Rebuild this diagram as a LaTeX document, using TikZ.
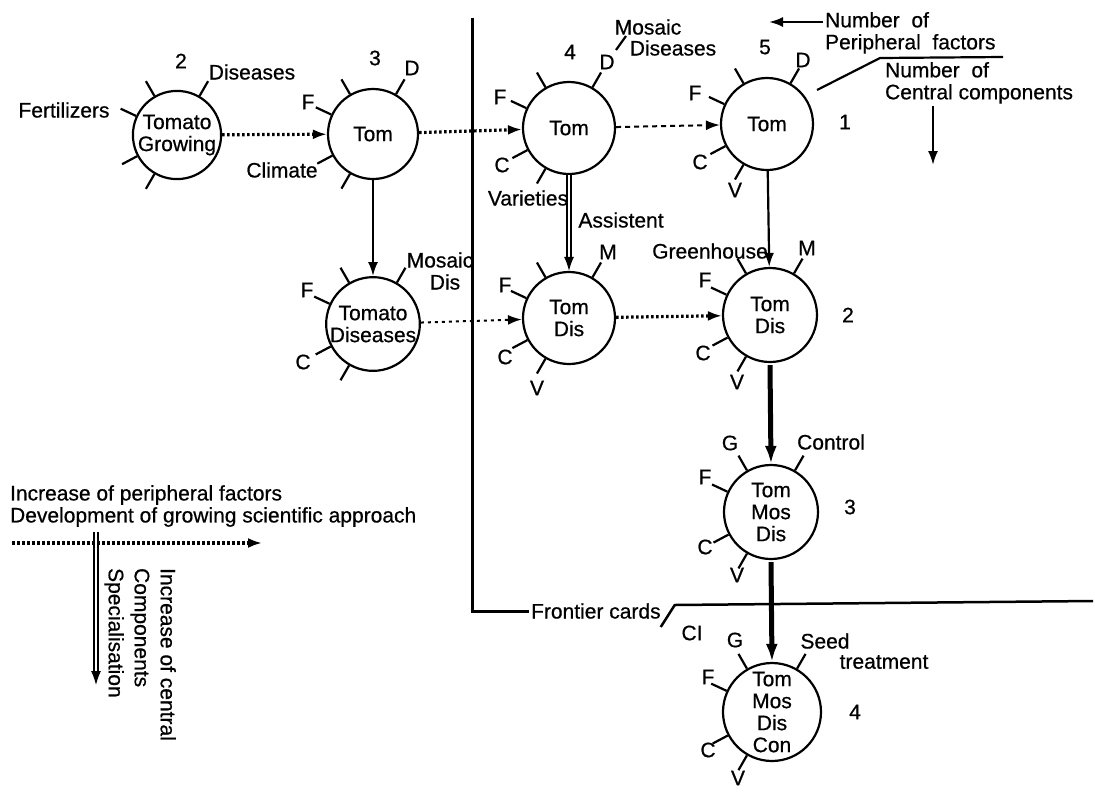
\documentclass[tikz,border=0pt]{standalone}
\usepackage{fontspec}
\setmainfont{Liberation Sans}[FakeBold=0.6]
\usetikzlibrary{arrows.meta}
\tikzstyle{card}=[
        draw,
        circle,
        line width = 2.2pt,
        minimum size = 92pt,
        inner sep = 0pt,
        align = center
    ]
\tikzstyle{thickdots}=[line width = 3.2pt, dash pattern = on 2.5pt off 2.5pt]
\tikzstyle{dashes}=[line width = 2pt, dash pattern = on 5pt off 4pt]
\tikzstyle{dots}=[line width = 2pt, dash pattern = on 3pt off 4pt]
\tikzstyle{heavy}=[line width = 5pt, -{Latex[length=18pt,width=12pt]}]
\tikzstyle{twin}=[double, double distance = 2.5pt, line width = 1.3pt]

\begin{document}
\begin{tikzpicture}[x=1pt, y=1pt, line width=2.2pt, inner sep=1pt,
    font=\fontsize{21}{22}\selectfont, >={Latex[length=14pt,width=10pt]}]
        \useasboundingbox (0,0) rectangle (1095,-796);

        % cards
        \node[card, minimum size=88pt] (grow) at (177,-135) {Tomato\\Growing};
        \node[card, minimum size=90pt] (tom3) at (373,-134) {Tom};
        \node[card] (tom4) at (569,-128) {Tom};
        \node[card] (tom5) at (767,-124) {Tom};
        \node[card, minimum size=90pt] (dis3) at (373,-324) {Tomato\\Diseases};
        \node[card] (dis4) at (569,-318) {Tom\\Dis};
        \node[card, minimum size=94pt] (dis5) at (770,-315) {Tom\\Dis};
        \node[card, minimum size=94pt] (mos) at (771,-512) {Tom\\Mos\\Dis};
        \node[card, minimum size=98pt] (con) at (772,-712) {Tom\\Mos\\Dis\\Con};

        % peripheral factors
        \foreach \n in {grow,tom3,tom4,tom5,dis3,dis4,dis5,mos,con}
            \foreach \a in {60,120,155,208,240}
                \draw (\n.\a) -- ++(\a:17);

        \node (g2) at (181,-61) {2};
        \node (gdis) at (252,-72) {Diseases};
        \node (gfer) at (64,-110) {Fertilizers};

        \node (t3) at (375,-58) {3};
        \node (t3d) at (412,-68) {D};
        \node (t3f) at (308,-102) {F};
        \node (t3cl) at (282,-170) {Climate};

        \node (t4) at (570,-52) {4};
        \node (t4d) at (607,-62) {D};
        \draw (616,-50) -- (626,-36);
        \node (t4mo) at (648,-27) {Mosaic};
        \node (t4di) at (673,-48) {Diseases};
        \node (t4f) at (500,-97) {F};
        \node (t4c) at (502,-165) {C};
        \node (t4va) at (528,-198) {Varieties};
        \node (t4as) at (621,-220) {Assistent};

        \node (t5) at (765,-47) {5};
        \node (t5d) at (803,-60) {D};
        \node (t5f) at (695,-93) {F};
        \node (t5c) at (700,-162) {C};
        \node (t5v) at (735,-190) {V};
        \node (t5n) at (845,-122) {1};

        \node (d3mo) at (440,-260) {Mosaic};
        \node (d3di) at (445,-282) {Dis};
        \node (d3f) at (307,-290) {F};
        \node (d3c) at (303,-362) {C};

        \node (d4m) at (608,-252) {M};
        \node (d4f) at (505,-285) {F};
        \node (d4c) at (505,-357) {C};
        \node (d4v) at (537,-388) {V};

        \node (d5gr) at (710,-251) {Greenhouse};
        \node (d5m) at (807,-248) {M};
        \node (d5f) at (705,-280) {F};
        \node (d5c) at (703,-353) {C};
        \node (d5v) at (737,-382) {V};
        \node (d5n) at (848,-315) {2};

        \node (mg) at (730,-443) {G};
        \node (mco) at (831,-442) {Control};
        \node (mf) at (705,-477) {F};
        \node (mc) at (705,-547) {C};
        \node (mv) at (737,-575) {V};
        \node (mn) at (850,-507) {3};

        \node (cg) at (735,-640) {G};
        \node (cse) at (825,-641) {Seed};
        \node (ctr) at (884,-662) {treatment};
        \node (cf) at (708,-677) {F};
        \node (cc) at (708,-750) {C};
        \node (cv) at (738,-778) {V};
        \node (cn) at (855,-712) {4};

        % links
        \draw[thickdots, ->] (grow) -- (tom3);
        \draw[thickdots, ->] (tom3) -- (tom4);
        \draw[dashes, ->] (tom4) -- (tom5);
        \draw[->] (tom3) -- (dis3);
        \draw[twin, ->] (tom4) -- (dis4);
        \draw[->] (tom5) -- (dis5);
        \draw[dots, ->] (dis3) -- (dis4);
        \draw[thickdots, ->] (dis4) -- (dis5);
        \draw[heavy] ([yshift=-2pt]dis5.south) -- (mos.north);
        \draw[heavy] ([yshift=-2pt]mos.south) -- (con.north);

        % frontier
        \node[anchor=west] (front) at (529,-611) {Frontier cards};
        \draw[line width=3pt] (472,-18) |- (front.west);
        \draw[line width=2.5pt] (front.east) ++(-2,-16) -- ++(14,22) -- (1093,-601);
        \node (ci) at (692,-633) {CI};

        % number of factors / components
        \node[anchor=north west, align=left] (perf) at (823,-10) {Number\ \ of\\Peripheral\ \ factors};
        \coordinate (perfend) at (769,-22);
        \draw[->] (perf.west |- perfend) -- (perfend);
        \draw (817,-90) -- (880,-58) -- (1003,-57);
        \node[anchor=north west, align=left] (cenc) at (883,-60) {Number\ \ of\\Central components};
        \coordinate (cencend) at (933,-165);
        \draw[->] (cenc.south -| cencend) -- (cencend);

        % legend
        \node[anchor=west] (incp) at (8,-495) {Increase of peripheral factors};
        \node[anchor=west] (devg) at (8,-517) {Development of growing scientific approach};
        \coordinate (legl) at (12,-543);
        \coordinate (legr) at (262,-543);
        \draw[thickdots, ->] (legl) -- (legr);
        \coordinate (legt) at (96,-532);
        \coordinate (legb) at (96,-685);
        \draw[twin, ->] (legt) -- (legb);
        \node[rotate=-90, anchor=north west, align=left, font=\fontsize{21}{26}\selectfont]
            (incc) at (178,-566) {Increase of central\\Components\\Specialisation};

    \end{tikzpicture}
\end{document}
